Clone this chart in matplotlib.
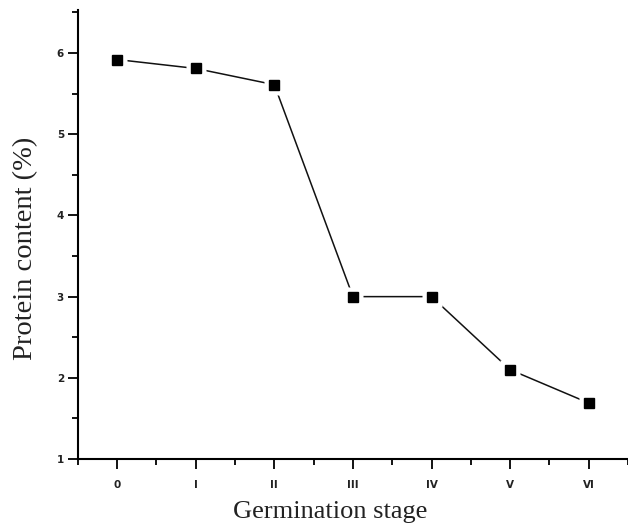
import matplotlib
matplotlib.use("Agg")
import matplotlib.pyplot as plt
from matplotlib.ticker import MultipleLocator

stages = ["0", "I", "II", "III", "IV", "V", "VI"]
protein = [5.92, 5.81, 5.61, 3.0, 3.0, 2.1, 1.69]
yticks = [1, 2, 3, 4, 5, 6]

fig = plt.figure(figsize=(6.28, 5.27), dpi=100)
ax = fig.add_axes([0.124, 0.129, 0.876, 0.852])
x = list(range(len(stages)))
ax.plot(x, protein, color="#111111", lw=1.1, zorder=2)
ax.plot(x, protein, ls="none", marker="s", ms=15, mfc="white", mec="none", zorder=3)
ax.plot(x, protein, ls="none", marker="s", ms=7.5, mfc="black", mec="black", zorder=4)
ax.set_xlim(-0.5, 6.46)
ax.set_ylim(1, 6.53)
ax.set_xticks(x)
ax.set_xticklabels(stages, fontweight="bold", fontsize=7.5, color="#222222")
ax.set_xticks([i + 0.5 for i in range(-1, 7)], minor=True)
ax.set_yticks(yticks)
ax.set_yticklabels([str(v) for v in yticks], fontweight="bold", fontsize=7.5, color="#222222")
ax.yaxis.set_minor_locator(MultipleLocator(0.5))
for s in ["top", "right"]:
    ax.spines[s].set_visible(False)
ax.spines["left"].set_linewidth(1.5)
ax.spines["bottom"].set_linewidth(1.5)
ax.tick_params(axis="both", which="major", direction="out", length=7, width=1.3, pad=8)
ax.tick_params(axis="both", which="minor", direction="out", length=4, width=1.3)
ax.tick_params(axis="y", which="major", pad=3)
ax.set_xlabel("Germination stage", family="Liberation Serif", fontsize=19, color="#222222")
ax.set_ylabel("Protein content (%)", family="Liberation Serif", fontsize=20.5, color="#222222")
ax.xaxis.set_label_coords(0.458, -0.093)
ax.yaxis.set_label_coords(-0.073, 0.47)
fig.savefig("out.png", dpi=100)
